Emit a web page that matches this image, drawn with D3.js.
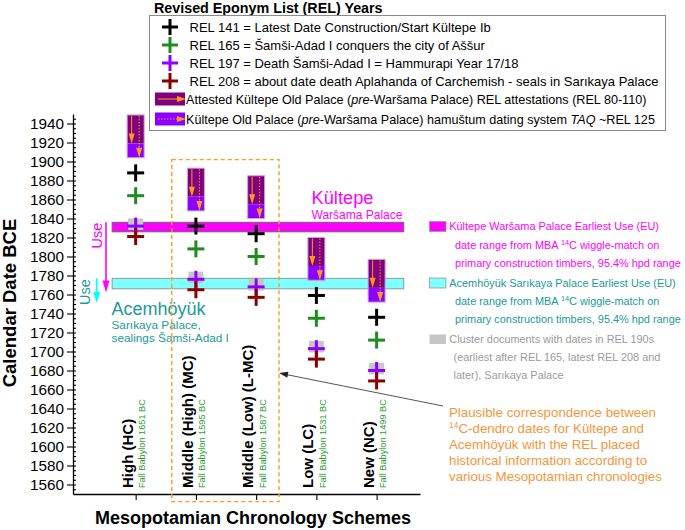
<!DOCTYPE html>
<html><head><meta charset="utf-8">
<script src="https://cdn.jsdelivr.net/npm/d3@7"></script>
<style>body{margin:0;background:#fff}svg{display:block}text{font-family:"Liberation Sans",Arial,sans-serif}</style>
</head><body><svg id="c" width="685" height="530"></svg>
<script>
// ---------- data ----------
const schemes = ["High (HC)", "Middle (High) (MC)", "Middle (Low) (L-MC)", "Low (LC)", "New (NC)"];
const fallBabylon = ["Fall Babylon 1651 BC", "Fall Babylon 1595 BC", "Fall Babylon 1587 BC", "Fall Babylon 1531 BC", "Fall Babylon 1499 BC"];
const rel141 = [1888, 1832, 1824, 1759, 1736];
const rel165 = [1864, 1808, 1800, 1735, 1712];
const rel197 = [1832, 1776, 1768, 1703, 1680];
const rel208 = [1821, 1765, 1757, 1692, 1669];
const attestedTop = [1949, 1893, 1885, 1820, 1797];    // REL 80
const attestedBottom = [1919, 1863, 1855, 1790, 1767]; // REL 110
const taqBottom = [1904, 1848, 1840, 1775, 1752];      // REL ~125
const clusterTop = [1840, 1784, 1776, 1711, 1688];
const clusterBottom = [1828, 1772, 1764, 1699, 1676];
const kultepeEU = [1836, 1826];
const acemhoyukEU = [1777, 1766];
const yTickValues = [1560,1580,1600,1620,1640,1660,1680,1700,1720,1740,1760,1780,1800,1820,1840,1860,1880,1900,1920,1940];
const relLegend = [
  "REL 141 = Latest Date Construction/Start Kültepe Ib",
  "REL 165 = Šamši-Adad I conquers the city of Aššur",
  "REL 197 = Death Šamši-Adad I = Hammurapi Year 17/18",
  "REL 208 = about date death Aplahanda of Carchemish - seals in Sarıkaya Palace"
];

// ---------- style ----------
const COL = {black:"#000", green:"#1e8c1e", purple:"#8c00ff", red:"#8b0000", dpurple:"#800080",
  violet:"#8c00ff", orange:"#ff9a1a", magenta:"#ff00ff", cyan:"#80ffff", teal:"#1a9a9a", grey:"#c6c6c6",
  note:"#f5963c", greyText:"#9a9a9a", greenText:"#2e9e2e"};
const crossSeries = [[rel141, COL.black],[rel165, COL.green],[rel197, COL.purple],[rel208, COL.red]];

const svg = d3.select("#c");
const x = d3.scaleLinear().domain([-1.04, 4.72]).range([73, 420]);
const y = d3.scaleLinear().domain([1550, 1950]).range([494, 114]);
const idx = d3.range(schemes.length);

function cross(g, cx, cy, color, s=8.5, sw=3){
  g.append("line").attr("x1",cx-s).attr("x2",cx+s).attr("y1",cy).attr("y2",cy).attr("stroke",color).attr("stroke-width",sw);
  g.append("line").attr("x1",cx).attr("x2",cx).attr("y1",cy-s).attr("y2",cy+s).attr("stroke",color).attr("stroke-width",sw);
}
function downArrow(g, cx, y0, y1, color, dotted, hw=3, hl=10, sw=1){
  const l = g.append("line").attr("x1",cx).attr("x2",cx).attr("y1",y0).attr("y2",y1-hl+1).attr("stroke",color).attr("stroke-width",sw);
  if (dotted) l.attr("stroke-dasharray","1.5,1.5");
  g.append("path").attr("d",`M${cx-hw},${y1-hl}L${cx+hw},${y1-hl}L${cx},${y1}Z`).attr("fill",color);
}

// ---------- bands ----------
const bands = svg.append("g");
bands.append("rect").attr("x",x(-0.39)).attr("width",x(4.45)-x(-0.39))
  .attr("y",y(kultepeEU[0])).attr("height",y(kultepeEU[1])-y(kultepeEU[0]))
  .attr("fill",COL.magenta).attr("stroke","#666").attr("stroke-width",1);
bands.append("rect").attr("x",x(-0.39)).attr("width",x(4.45)-x(-0.39))
  .attr("y",y(acemhoyukEU[0])).attr("height",y(acemhoyukEU[1])-y(acemhoyukEU[0]))
  .attr("fill",COL.cyan).attr("stroke","#8a9a9a").attr("stroke-width",1);

// ---------- bars ----------
const bars = svg.append("g");
idx.forEach(i=>{
  const cx = x(i), bw = 17;
  bars.append("rect").attr("x",cx-bw/2).attr("width",bw).attr("y",y(attestedTop[i]))
    .attr("height",y(attestedBottom[i])-y(attestedTop[i])).attr("fill",COL.dpurple);
  bars.append("rect").attr("x",cx-bw/2).attr("width",bw).attr("y",y(attestedBottom[i]))
    .attr("height",y(taqBottom[i])-y(attestedBottom[i])).attr("fill",COL.violet);
  bars.append("rect").attr("x",cx-bw/2).attr("width",bw).attr("y",y(attestedTop[i]))
    .attr("height",y(taqBottom[i])-y(attestedTop[i])).attr("fill","none").attr("stroke","#c9a3e0").attr("stroke-width",1);
  downArrow(bars, cx-4, y(attestedTop[i])+1, y(attestedBottom[i]), COL.orange, false);
  downArrow(bars, cx+3.5, y(attestedTop[i])+1, y(taqBottom[i]), COL.orange, true);
});

// ---------- cluster boxes + crosses ----------
const marks = svg.append("g");
idx.forEach(i=>{
  marks.append("rect").attr("x",x(i)-7.5).attr("width",15).attr("y",y(clusterTop[i]))
    .attr("height",y(clusterBottom[i])-y(clusterTop[i])).attr("fill",COL.grey);
});
crossSeries.forEach(([vals,color])=>{
  idx.forEach(i=>cross(marks, x(i), y(vals[i]), color));
});

// ---------- axes ----------
const yAxis = svg.append("g").attr("transform","translate(73,0)")
  .call(d3.axisLeft(y).tickValues(yTickValues).tickSize(6).tickSizeOuter(0).tickPadding(3).tickFormat(d3.format("d")));
svg.append("g").attr("transform","translate(73,0)")
  .call(d3.axisRight(y).tickValues(d3.range(1555,1950,5)).tickSize(3).tickSizeOuter(0).tickFormat(""))
  .select(".domain").remove();
yAxis.selectAll("text").attr("font-size","15.3px").attr("fill","#000").attr("font-family",'"Liberation Sans",Arial,sans-serif');
const xAxis = svg.append("g").attr("transform","translate(0,494)")
  .call(d3.axisBottom(x).tickValues(idx).tickSize(6).tickSizeOuter(0).tickFormat(""));
svg.selectAll(".domain").attr("stroke","#000").attr("stroke-width",1.3);
svg.selectAll(".tick line").attr("stroke","#000").attr("stroke-width",1.1);

// category labels
idx.forEach(i=>{
  svg.append("text").attr("transform",`translate(${x(i)-3},488) rotate(-90)`)
    .attr("font-size","15px").attr("font-weight","bold").attr("fill","#000").text(schemes[i]);
  svg.append("text").attr("transform",`translate(${x(i)+9.5},488) rotate(-90)`)
    .attr("font-size","9.2px").attr("fill",COL.greenText).text(fallBabylon[i]);
});

// axis titles
svg.append("text").attr("x",253).attr("y",524).attr("text-anchor","middle")
  .attr("font-size","18px").attr("font-weight","bold").text("Mesopotamian Chronology Schemes");
svg.append("text").attr("transform","translate(16,303) rotate(-90)").attr("text-anchor","middle")
  .attr("font-size","18.5px").attr("font-weight","bold").text("Calendar Date BCE");

// ---------- Use arrows ----------
svg.append("text").attr("transform","translate(101.5,235.5) rotate(-90)").attr("text-anchor","middle")
  .attr("font-size","14.5px").attr("fill",COL.magenta).text("Use");
downArrow(svg, 106, y(kultepeEU[0]), y(1762), COL.magenta, false, 3.5, 12, 1.6);
svg.append("text").attr("transform","translate(90,292) rotate(-90)").attr("text-anchor","middle")
  .attr("font-size","14.5px").attr("fill",COL.teal).text("Use");
downArrow(svg, 96.7, y(acemhoyukEU[0]), y(1751), "#00ffff", false, 3.5, 11, 1.6);

// ---------- site labels ----------
svg.append("text").attr("x",311.5).attr("y",204).attr("font-size","18.3px").attr("fill",COL.magenta).text("Kültepe");
svg.append("text").attr("x",311.5).attr("y",218.5).attr("font-size","12px").attr("fill",COL.magenta).text("Waršama Palace");
svg.append("text").attr("x",111.5).attr("y",314.5).attr("font-size","18px").attr("fill",COL.teal).text("Acemhöyük");
svg.append("text").attr("x",111.5).attr("y",329).attr("font-size","11.8px").attr("fill",COL.teal).text("Sarıkaya Palace,");
svg.append("text").attr("x",111.5).attr("y",342).attr("font-size","11.8px").attr("fill",COL.teal).text("sealings Šamši-Adad I");

// ---------- orange dashed box ----------
svg.append("rect").attr("x",x(0.6)).attr("y",y(1902)).attr("width",x(2.38)-x(0.6)).attr("height",y(1542)-y(1902))
  .attr("fill","none").attr("stroke",COL.orange).attr("stroke-width",1.4).attr("stroke-dasharray","4,3");

// ---------- annotation ----------
const tip = [x(2.38), 373], tail = [443, 406];
svg.append("line").attr("x1",tail[0]).attr("y1",tail[1]).attr("x2",tip[0]+6).attr("y2",tip[1]+1.3)
  .attr("stroke","#555").attr("stroke-width",1);
{
  const ang = Math.atan2(tail[1]-tip[1], tail[0]-tip[0]);
  const L=9, W=3;
  const bx = tip[0]+L*Math.cos(ang), by = tip[1]+L*Math.sin(ang);
  const px = -Math.sin(ang)*W, py = Math.cos(ang)*W;
  svg.append("path").attr("d",`M${tip[0]},${tip[1]}L${bx+px},${by+py}L${bx-px},${by-py}Z`).attr("fill","#222");
}
const note = svg.append("g").attr("font-size","13.3px").attr("fill",COL.note);
note.append("text").attr("x",449).attr("y",417).text("Plausible correspondence between");
{
  const t = note.append("text").attr("x",449).attr("y",433);
  t.append("tspan").attr("font-size","8.5px").attr("dy",-5).text("14");
  t.append("tspan").attr("dy",5).text("C-dendro dates for Kültepe and");
}
note.append("text").attr("x",449).attr("y",449).text("Acemhöyük with the REL placed");
note.append("text").attr("x",449).attr("y",465).text("historical information according to");
note.append("text").attr("x",449).attr("y",481).text("various Mesopotamian chronologies");

// ---------- right legend ----------
const rl = svg.append("g").attr("font-size","10.9px");
function sup14(t, before, after){
  t.append("tspan").text(before);
  t.append("tspan").attr("font-size","7.3px").attr("dy",-4).text("14");
  t.append("tspan").attr("dy",4).text(after);
}
rl.append("rect").attr("x",429.5).attr("y",221.5).attr("width",16.5).attr("height",10).attr("fill",COL.magenta).attr("stroke","#999").attr("stroke-width",0.8);
rl.append("text").attr("x",449.3).attr("y",230).attr("fill",COL.magenta).text("Kültepe Waršama Palace Earliest Use (EU)");
sup14(rl.append("text").attr("x",455).attr("y",248.5).attr("fill",COL.magenta), "date range from MBA ", "C wiggle-match on");
rl.append("text").attr("x",455).attr("y",267).attr("fill",COL.magenta).text("primary construction timbers, 95.4% hpd range");

rl.append("rect").attr("x",429.5).attr("y",278).attr("width",16.5).attr("height",10).attr("fill",COL.cyan).attr("stroke","#999").attr("stroke-width",0.8);
rl.append("text").attr("x",449.3).attr("y",286.7).attr("fill",COL.teal).text("Acemhöyük Sarıkaya Palace Earliest Use (EU)");
sup14(rl.append("text").attr("x",455).attr("y",305).attr("fill",COL.teal), "date range from MBA ", "C wiggle-match on");
rl.append("text").attr("x",455).attr("y",323.3).attr("fill",COL.teal).text("primary construction timbers, 95.4% hpd range");

rl.append("rect").attr("x",429.5).attr("y",334.5).attr("width",16.5).attr("height",9.5).attr("fill",COL.grey);
rl.append("text").attr("x",449.3).attr("y",342.7).attr("fill",COL.greyText).text("Cluster documents with dates in REL 190s");
rl.append("text").attr("x",453.5).attr("y",360.5).attr("fill",COL.greyText).text("(earliest after REL 165, latest REL 208 and");
rl.append("text").attr("x",453.5).attr("y",378.5).attr("fill",COL.greyText).text("later), Sarıkaya Palace");

// ---------- top legend ----------
const tl = svg.append("g");
tl.append("text").attr("x",154).attr("y",12.5).attr("font-size","14.3px").attr("font-weight","bold").text("Revised Eponym List (REL) Years");
tl.append("rect").attr("x",149.5).attr("y",15.5).attr("width",516).attr("height",115).attr("fill","#fff").attr("stroke","#8a8a8a").attr("stroke-width",1);
const rowsY = [27, 45, 63, 81];
crossSeries.forEach(([vals,color],k)=>{
  cross(tl, 170, rowsY[k], color, 8, 3);
  tl.append("text").attr("x",189.5).attr("y",rowsY[k]+4.6).attr("font-size","13px").text(relLegend[k]);
});
// swatch rows
[[99, COL.dpurple, false], [119, COL.violet, true]].forEach(([cy, col, dotted])=>{
  tl.append("rect").attr("x",155).attr("y",cy-6.5).attr("width",30).attr("height",13).attr("fill",col);
  const l = tl.append("line").attr("x1",158).attr("x2",177).attr("y1",cy).attr("y2",cy).attr("stroke",COL.orange).attr("stroke-width",1);
  if (dotted) l.attr("stroke-dasharray","1.5,1.5");
  tl.append("path").attr("d",`M177,${cy-3}L177,${cy+3}L186,${cy}Z`).attr("fill",COL.orange);
});
{
  const t = tl.append("text").attr("x",186).attr("y",103.5).attr("font-size","12.6px");
  t.append("tspan").text("Attested Kültepe Old Palace (");
  t.append("tspan").attr("font-style","italic").text("pre");
  t.append("tspan").text("-Waršama Palace) REL attestations (REL 80-110)");
  const t2 = tl.append("text").attr("x",186).attr("y",123.5).attr("font-size","12.6px");
  t2.append("tspan").text("Kültepe Old Palace (");
  t2.append("tspan").attr("font-style","italic").text("pre");
  t2.append("tspan").text("-Waršama Palace) hamuštum dating system ");
  t2.append("tspan").attr("font-style","italic").text("TAQ");
  t2.append("tspan").text(" ~REL 125");
}
</script></body></html>
